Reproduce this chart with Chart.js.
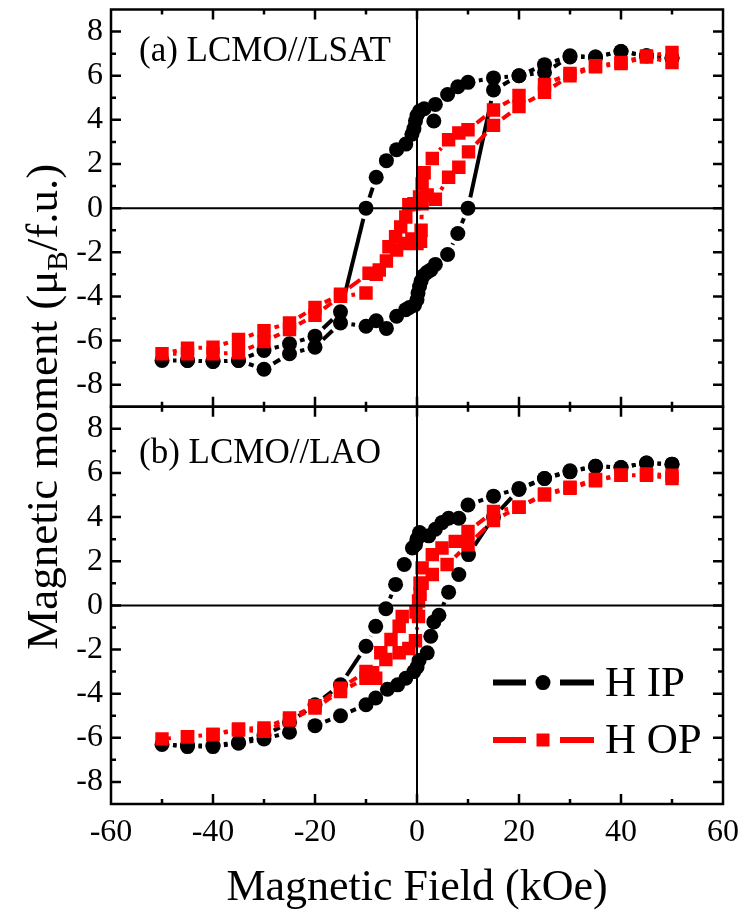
<!DOCTYPE html>
<html lang="en">
<head>
  <meta charset="UTF-8">
  <title>LCMO hysteresis loops</title>
  <script src="https://cdn.jsdelivr.net/npm/chart.js"></script>
  <style>
    html, body { margin: 0; padding: 0; background: #fff; }
    #wrap { width: 748px; height: 918px; }
  </style>
</head>
<body>
<div id="wrap"><canvas id="loops" width="748" height="918"></canvas></div>
<script>
  // (a) LCMO//LSAT, H in plane: branch from +50 down to -50, then back up
  const lsatIpField = [50, 45, 40, 35, 30, 25, 20, 15, 10, 8, 6, 3.6, 3.3, 1.4, 0.5, 0, -0.3, -0.6, -1, -2.2, -4, -6, -8, -10, -15, -20, -25, -30, -35, -40, -45, -50,
    -45, -40, -35, -30, -25, -20, -15, -10, -8, -6, -4, -2.2, -1.5, -0.5, 0, 0.2, 0.5, 0.8, 1.3, 2, 2.7, 3.6, 6, 8, 10, 15, 20, 25, 30, 35, 40, 45, 50];
  const lsatIpMoment = [6.8, 6.9, 7.1, 6.85, 6.9, 6.5, 6.0, 5.9, 5.7, 5.5, 5.15, 4.7, 3.95, 4.5, 4.4, 4.2, 3.95, 3.6, 3.35, 2.9, 2.65, 2.15, 1.4, 0, -4.7, -5.8, -6.15, -6.45, -6.9, -6.95, -6.9, -6.9,
    -6.9, -6.95, -6.9, -7.3, -6.6, -6.3, -5.2, -5.35, -5.1, -5.45, -4.9, -4.6, -4.5, -4.4, -4.15, -3.85, -3.55, -3.3, -3.05, -2.9, -2.8, -2.55, -2.1, -1.15, 0, 5.35, 6.0, 6.15, 6.85, 6.85, 7.1, 6.9, 6.8];

  // (a) LCMO//LSAT, H out of plane
  const lsatOpField = [50, 45, 40, 35, 30, 25, 20, 15, 10, 8.2, 6.2, 3, 1.4, 1, 0.5, -0.6, -1.6, -2.2, -3.2, -4.2, -5.5, -7.4, -9.4, -15, -20, -25, -30, -35, -40, -45, -50,
    -45, -40, -35, -30, -25, -20, -15, -10, -8, -6, -4, -2.5, -1, 0, 0.7, 0.8, 1, 2, 3.6, 6.2, 8.2, 10.1, 15, 20, 25, 30, 35, 40, 45, 50];
  const lsatOpMoment = [7.05, 6.9, 6.6, 6.45, 6.1, 5.6, 5.1, 4.45, 3.55, 3.4, 3.1, 2.25, 1.6, 1.1, 0.5, 0.2, 0.15, -0.4, -0.85, -1.3, -1.75, -2.8, -2.95, -3.9, -4.5, -5.2, -5.55, -5.95, -6.3, -6.35, -6.6,
    -6.6, -6.6, -6.55, -6.05, -5.5, -4.85, -4.0, -3.85, -3.0, -2.4, -1.9, -1.6, -1.4, -1.6, -1.5, -1.0, 0.2, 0.6, 0.4, 1.4, 1.85, 2.55, 3.75, 4.6, 5.25, 6.0, 6.4, 6.55, 6.85, 6.6];

  // (b) LCMO//LAO, H in plane
  const laoIpField = [50, 45, 40, 35, 30, 25, 20, 15, 10, 8.2, 6.2, 4.9, 3.6, 2.3, 0.5, 0, -0.3, -0.9, -2.5, -4.2, -6.1, -8.1, -10, -15, -20, -25, -30, -35, -40, -45, -50,
    -45, -40, -35, -30, -25, -20, -15, -10, -8.1, -5.8, -3.8, -2.2, -0.6, 0, 0.4, 2, 2.7, 3.3, 4.3, 6.2, 8.2, 10.1, 15, 20, 25, 30, 35, 40, 45, 50];
  const laoIpMoment = [6.4, 6.45, 6.25, 6.3, 6.1, 5.75, 5.3, 4.95, 4.55, 3.95, 3.95, 3.75, 3.45, 3.15, 3.3, 3.0, 2.75, 2.6, 1.85, 0.95, -0.15, -0.95, -1.85, -3.6, -4.5, -5.3, -5.9, -6.2, -6.35, -6.35, -6.3,
    -6.4, -6.4, -6.25, -6.05, -5.75, -5.45, -5.0, -4.5, -4.2, -3.8, -3.6, -3.3, -3.0, -2.8, -2.5, -2.15, -1.4, -0.75, -0.45, 0.6, 1.4, 2.3, 4.0, 5.25, 5.75, 6.05, 6.3, 6.25, 6.45, 6.4];

  // (b) LCMO//LAO, H out of plane
  const laoOpField = [50, 45, 40, 35, 30, 25, 20, 15, 10, 7.5, 4.9, 3, 1, 0.6, 0.3, -0.2, -2.9, -3.5, -5.1, -7.1, -8.7, -10, -15, -20, -25, -30, -35, -40, -45, -50,
    -45, -40, -35, -30, -25, -20, -15, -10, -8.1, -6.1, -3.5, -1.6, -0.3, 0.3, 0.6, 1, 3, 5.9, 10, 15, 20, 25, 30, 35, 40, 45, 50];
  const laoOpMoment = [5.9, 5.95, 5.9, 5.7, 5.35, 5.05, 4.45, 4.25, 3.35, 2.9, 2.6, 2.3, 1.7, 1.0, 0.2, -0.3, -0.5, -0.95, -1.55, -2.15, -3.05, -3.0, -3.75, -4.55, -5.1, -5.55, -5.6, -5.85, -5.95, -6.05,
    -5.95, -5.85, -5.65, -5.7, -5.2, -4.65, -3.9, -3.3, -3.3, -2.45, -2.15, -1.95, -1.6, -0.5, 0.5, 1.0, 1.4, 1.85, 2.75, 3.85, 4.45, 5.0, 5.3, 5.65, 5.9, 5.9, 5.75];

  const xTicks = [-60, -40, -20, 0, 20, 40, 60];
  const yTicks = [-8, -6, -4, -2, 0, 2, 4, 6, 8];
  const panelNames = ['(a) LCMO//LSAT', '(b) LCMO//LAO'];
  const seriesNames = ['H IP', 'H OP'];

  const SERIF = '"Liberation Serif", "Times New Roman", serif';
  const BLACK = '#000000';
  const RED = '#ff0000';
  const GAP = 11;  // line stops short of each symbol, like the original

  function pairs(xs, ys) {
    return xs.map((v, i) => ({ x: v, y: ys[i] }));
  }

  // each segment gets its own dash so the stroke leaves a gap at both ends
  function gapDash(ctx) {
    const d = Math.hypot(ctx.p1.x - ctx.p0.x, ctx.p1.y - ctx.p0.y);
    if (d <= 2 * GAP) return [0, d + 20];
    return [0, GAP, d - 2 * GAP, GAP + 20];
  }

  function series(xs, ys, color, shape, axis, order) {
    return {
      data: pairs(xs, ys),
      yAxisID: axis,
      showLine: true,
      borderColor: color,
      borderWidth: 4,
      tension: 0,
      pointStyle: shape,
      pointRadius: shape === 'rect' ? 9.5 : 7.5,
      pointBackgroundColor: color,
      pointBorderWidth: 0,
      order: order,
      segment: { borderDash: gapDash }
    };
  }

  function yAxis() {
    return {
      type: 'linear',
      position: 'left',
      stack: 'panels',
      stackWeight: 1,
      min: -9,
      max: 9,
      grid: { display: false, drawTicks: false },
      border: { display: false },
      ticks: {
        stepSize: 1,
        autoSkip: false,
        padding: 8,
        color: BLACK,
        font: { family: SERIF, size: 32 },
        callback: v => yTicks.includes(v) ? String(v) : ''
      },
      afterFit: s => {
        s.width = 111;
        s.paddingTop = 0;
        s.paddingBottom = 0;
      }
    };
  }

  const framePlugin = {
    id: 'framePlugin',
    afterDatasetsDraw(chart) {
      const { ctx, scales } = chart;
      const x = scales.x;
      ctx.save();
      ctx.strokeStyle = BLACK;
      [scales.yA, scales.yB].forEach(y => {
        // zero lines
        ctx.lineWidth = 2;
        const y0 = y.getPixelForValue(0);
        const x0 = x.getPixelForValue(0);
        ctx.beginPath();
        ctx.moveTo(x.left, y0); ctx.lineTo(x.right, y0);
        ctx.moveTo(x0, y.top); ctx.lineTo(x0, y.bottom);
        ctx.stroke();
        // inward ticks, major and minor
        ctx.lineWidth = 2.5;
        ctx.beginPath();
        for (let v = -8; v <= 8; v++) {
          const p = y.getPixelForValue(v);
          const len = v % 2 === 0 ? 10 : 5;
          ctx.moveTo(x.left, p); ctx.lineTo(x.left + len, p);
          ctx.moveTo(x.right, p); ctx.lineTo(x.right - len, p);
        }
        for (let v = -50; v <= 50; v += 10) {
          const p = x.getPixelForValue(v);
          const len = v % 20 === 0 ? 10 : 5;
          ctx.moveTo(p, y.top); ctx.lineTo(p, y.top + len);
          ctx.moveTo(p, y.bottom); ctx.lineTo(p, y.bottom - len);
        }
        ctx.stroke();
        ctx.strokeRect(x.left, y.top, x.right - x.left, y.bottom - y.top);
      });
      ctx.restore();
    },
    afterDraw(chart) {
      const { ctx, scales, chartArea } = chart;
      ctx.save();
      ctx.fillStyle = BLACK;

      // panel labels
      ctx.font = '35px ' + SERIF;
      ctx.textAlign = 'left';
      ctx.textBaseline = 'alphabetic';
      ctx.fillText(panelNames[0], chartArea.left + 28, scales.yA.top + 51);
      ctx.fillText(panelNames[1], chartArea.left + 28, scales.yB.top + 56);

      // y title with subscript B
      const size = 45;
      const main = 'Magnetic moment (\u03bc';
      const sub = 'B';
      const rest = '/f.u.)';
      ctx.font = size + 'px ' + SERIF;
      const w1 = ctx.measureText(main).width;
      const w3 = ctx.measureText(rest).width;
      ctx.font = Math.round(size * 0.65) + 'px ' + SERIF;
      const w2 = ctx.measureText(sub).width;
      const total = w1 + w2 + w3;
      ctx.translate(57, (scales.yA.top + scales.yB.bottom) / 2);
      ctx.rotate(-Math.PI / 2);
      let cx = -total / 2;
      ctx.font = size + 'px ' + SERIF;
      ctx.fillText(main, cx, 0);
      cx += w1;
      ctx.font = Math.round(size * 0.65) + 'px ' + SERIF;
      ctx.fillText(sub, cx, size * 0.22);
      cx += w2;
      ctx.font = size + 'px ' + SERIF;
      ctx.fillText(rest, cx, 0);
      ctx.setTransform(1, 0, 0, 1, 0, 0);

      // legend
      const lx = chartArea.right - 230;
      const rows = [scales.yB.getPixelForValue(-3.5), scales.yB.getPixelForValue(-6.1)];
      const colors = [BLACK, RED];
      ctx.lineWidth = 6;
      rows.forEach((ly, i) => {
        ctx.strokeStyle = colors[i];
        ctx.fillStyle = colors[i];
        ctx.beginPath();
        ctx.moveTo(lx, ly); ctx.lineTo(lx + 33, ly);
        ctx.moveTo(lx + 67, ly); ctx.lineTo(lx + 101, ly);
        ctx.stroke();
        if (i === 0) {
          ctx.beginPath();
          ctx.arc(lx + 50, ly, 7.5, 0, Math.PI * 2);
          ctx.fill();
        } else {
          ctx.fillRect(lx + 43.5, ly - 6.5, 13, 13);
        }
        ctx.fillStyle = BLACK;
        ctx.font = '43px ' + SERIF;
        ctx.textBaseline = 'middle';
        ctx.fillText(seriesNames[i], lx + 112, ly + 2);
      });
      ctx.restore();
    }
  };

  new Chart(document.getElementById('loops'), {
    type: 'scatter',
    data: {
      datasets: [
        series(laoIpField, laoIpMoment, BLACK, 'circle', 'yB', 2),
        series(laoOpField, laoOpMoment, RED, 'rect', 'yB', 1),
        series(lsatIpField, lsatIpMoment, BLACK, 'circle', 'yA', 2),
        series(lsatOpField, lsatOpMoment, RED, 'rect', 'yA', 1)
      ]
    },
    options: {
      responsive: false,
      devicePixelRatio: 1,
      animation: false,
      events: [],
      layout: { padding: { top: 8, right: 23, left: 0, bottom: 0 } },
      plugins: { legend: { display: false }, tooltip: { enabled: false } },
      scales: {
        x: {
          type: 'linear',
          position: 'bottom',
          min: -60,
          max: 60,
          grid: { display: false, drawTicks: false },
          border: { display: false },
          ticks: {
            stepSize: 20,
            padding: 9,
            color: BLACK,
            font: { family: SERIF, size: 32 },
            callback: v => xTicks.includes(v) ? String(v) : ''
          },
          title: {
            display: true,
            text: 'Magnetic Field (kOe)',
            color: BLACK,
            font: { family: SERIF, size: 44 },
            padding: { top: 0, bottom: 3 }
          },
          afterFit: s => { s.height = 114; }
        },
        // defined bottom panel first: the last stacked axis lands on top
        yB: yAxis(),
        yA: yAxis()
      }
    },
    plugins: [framePlugin]
  });
</script>
</body>
</html>
